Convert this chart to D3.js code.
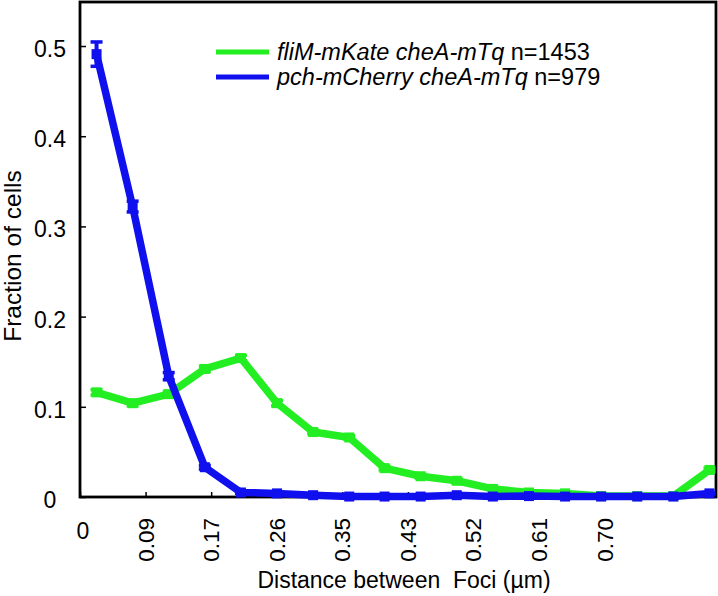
<!DOCTYPE html>
<html>
<head>
<meta charset="utf-8">
<script src="https://cdn.jsdelivr.net/npm/d3@7/dist/d3.min.js"></script>
<style>
  html, body { margin: 0; padding: 0; background: #fff; }
  svg { display: block; font-family: "Liberation Sans", Arial, sans-serif; }
</style>
</head>
<body>
<svg id="chart" width="718" height="596"></svg>
<script>
// ---------- data ----------
const distances = [0.022, 0.070, 0.118, 0.166, 0.214, 0.262, 0.310, 0.358, 0.405,
                   0.453, 0.501, 0.549, 0.597, 0.645, 0.693, 0.741, 0.789, 0.837];
const fliMValues = [0.116, 0.104, 0.114, 0.142, 0.154, 0.104, 0.072, 0.066, 0.032,
                    0.023, 0.018, 0.009, 0.005, 0.004, 0.001, 0.001, 0.001, 0.030];
const fliMErrors = [0.003, 0.003, 0.003, 0.003, 0.003, 0.003, 0.002, 0.002, 0.002,
                    0.002, 0.002, 0.001, 0.001, 0.001, 0.001, 0.001, 0.001, 0.002];
const pchValues  = [0.491, 0.322, 0.134, 0.033, 0.005, 0.004, 0.002, 0.0005, 0.0005,
                    0.0005, 0.002, 0.0005, 0.001, 0.0005, 0.0005, 0.0005, 0.0005, 0.004];
const pchErrors  = [0.0135, 0.006, 0.004, 0.002, 0.001, 0.001, 0.001, 0.001, 0.001,
                    0.001, 0.001, 0.001, 0.001, 0.001, 0.001, 0.001, 0.001, 0.001];
const xTickValues = [0, 0.0872, 0.1744, 0.2616, 0.3488, 0.436, 0.5232, 0.6104, 0.6976, 0.7848];
const xTickLabels = ["0", "0.09", "0.17", "0.26", "0.35", "0.43", "0.52", "0.61", "0.70", ""];
const yTickValues = [0, 0.1, 0.2, 0.3, 0.4, 0.5];
const yTickLabels = ["0", "0.1", "0.2", "0.3", "0.4", "0.5"];
const seriesNames = ["fliM-mKate cheA-mTq", "pch-mCherry cheA-mTq"];
const seriesCounts = ["n=1453", "n=979"];
const seriesColors = ["#22ee22", "#1010ee"];

// ---------- layout ----------
const svg = d3.select("#chart");
const L = 80, R = 716, T = 2, B = 497;
const x = d3.scaleLinear().domain([0, 0.8457]).range([L, R]);
const y = d3.scaleLinear().domain([0, 0.5488]).range([B, T]);

// frame (box)
svg.append("rect")
  .attr("x", L).attr("y", T).attr("width", R - L).attr("height", B - T)
  .attr("fill", "none").attr("stroke", "#000").attr("stroke-width", 2.8);

// x axis ticks (inward)
const xAxis = d3.axisBottom(x).tickValues(xTickValues).tickSize(-5).tickFormat("");
svg.append("g").attr("transform", `translate(0,${B})`).call(xAxis)
  .call(g => g.select(".domain").remove())
  .call(g => g.selectAll(".tick line").attr("stroke", "#000").attr("stroke-width", 1.5));

// y axis ticks (inward)
const yAxis = d3.axisLeft(y).tickValues(yTickValues).tickSize(-6).tickFormat("");
svg.append("g").attr("transform", `translate(${L},0)`).call(yAxis)
  .call(g => g.select(".domain").remove())
  .call(g => g.selectAll(".tick line").attr("stroke", "#000").attr("stroke-width", 1.5));

// x tick labels
xTickValues.forEach((v, i) => {
  const lab = xTickLabels[i];
  if (!lab) return;
  if (i === 0) {
    svg.append("text").attr("x", x(v) + 3).attr("y", 539)
      .attr("text-anchor", "middle").attr("font-size", 23).text(lab);
  } else {
    svg.append("text")
      .attr("transform", `translate(${x(v) + 8},518) rotate(-90)`)
      .attr("text-anchor", "end").attr("font-size", 22.5).text(lab);
  }
});

// y tick labels
yTickValues.forEach((v, i) => {
  svg.append("text").attr("x", 50).attr("y", y(v) + 11)
    .attr("text-anchor", "middle").attr("font-size", 23).text(yTickLabels[i]);
});

// axis titles
svg.append("text").attr("x", 404).attr("y", 588)
  .attr("text-anchor", "middle").attr("font-size", 23)
  .attr("xml:space", "preserve").style("white-space", "pre")
  .text("Distance between  Foci (\u00b5m)");
svg.append("text")
  .attr("transform", "translate(21,256) rotate(-90)")
  .attr("text-anchor", "middle").attr("font-size", 24.5)
  .text("Fraction of cells");

// series
const series = [
  { vals: fliMValues, errs: fliMErrors, color: seriesColors[0] },
  { vals: pchValues, errs: pchErrors, color: seriesColors[1] }
];
const line = d3.line().x((d, i) => x(distances[i])).y(d => y(d));

series.forEach(s => {
  const g = svg.append("g");
  g.append("path").datum(s.vals).attr("d", line)
    .attr("fill", "none").attr("stroke", s.color).attr("stroke-width", 7.5)
    .attr("stroke-linejoin", "round");
  s.vals.forEach((v, i) => {
    const cx = x(distances[i]);
    const lo = y(v - s.errs[i]), hi = y(v + s.errs[i]);
    g.append("line").attr("x1", cx).attr("x2", cx).attr("y1", lo).attr("y2", hi)
      .attr("stroke", s.color).attr("stroke-width", 4);
    [lo, hi].forEach(yy => g.append("line")
      .attr("x1", cx - 6).attr("x2", cx + 6).attr("y1", yy).attr("y2", yy)
      .attr("stroke", s.color).attr("stroke-width", 3.5));
    g.append("rect").attr("x", cx - 5).attr("y", y(v) - 5).attr("width", 10).attr("height", 10)
      .attr("fill", s.color);
  });
});

// legend
seriesNames.forEach((name, i) => {
  const ly = 52 + i * 25;
  svg.append("line").attr("x1", 216).attr("x2", 269).attr("y1", ly).attr("y2", ly)
    .attr("stroke", seriesColors[i]).attr("stroke-width", 5);
  const t = svg.append("text").attr("x", 277).attr("y", ly + 8).attr("font-size", 23.5);
  t.append("tspan").attr("font-style", "italic").text(name);
  t.append("tspan").text(" " + seriesCounts[i]);
});
</script>
</body>
</html>
